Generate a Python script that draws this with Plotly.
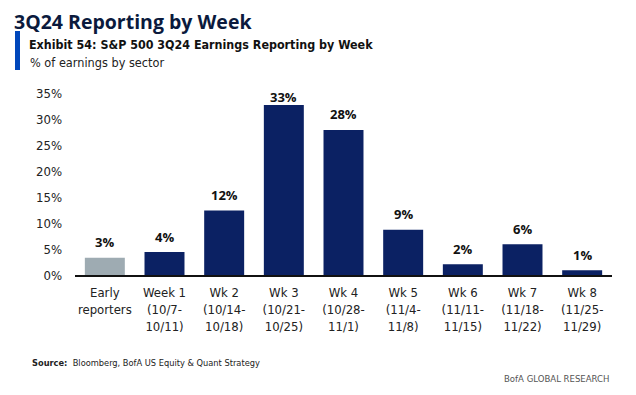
import plotly.graph_objects as go

categories = ["Early<br>reporters", "Week 1<br>(10/7-<br>10/11)", "Wk 2<br>(10/14-<br>10/18)",
              "Wk 3<br>(10/21-<br>10/25)", "Wk 4<br>(10/28-<br>11/1)", "Wk 5<br>(11/4-<br>11/8)",
              "Wk 6<br>(11/11-<br>11/15)", "Wk 7<br>(11/18-<br>11/22)", "Wk 8<br>(11/25-<br>11/29)"]
values = [3.3, 4.4, 12.4, 32.7, 27.9, 8.7, 2.05, 5.9, 0.9]
bar_colors = ["#9eabb2"] + ["#0b2163"] * 8
y_ticks = [0, 5, 10, 15, 20, 25, 30, 35]

NARROW = "DejaVu Sans Condensed, Liberation Sans Narrow, sans-serif"
BODY = "Open Sans, Liberation Sans, sans-serif"

OFF = 8  # page body margin
L, T, W, H = 75 - OFF, 93 - OFF, 537, 182

def px_x(x):
    return (x - OFF - L) / W

def px_y(y):
    return 1 - (y - OFF - T) / H

fig = go.Figure()
fig.add_trace(go.Bar(x=categories, y=values, marker_color=bar_colors,
                     marker_line_width=0, hoverinfo="skip"))

LABEL_OFFSET = 3.0   # label centre above bar top, in axis units
LABEL_CAP = 34.2     # labels never go above this level
for c, v in zip(categories, values):
    fig.add_annotation(x=c, y=min(v + LABEL_OFFSET, LABEL_CAP), text=f"<b>{v:.0f}%</b>",
                       showarrow=False, yanchor="middle",
                       font=dict(family=BODY, size=13, color="#111111"))

fig.update_layout(
    width=636, height=395,
    margin=dict(l=L, r=636 - L - W, t=T, b=395 - T - H, autoexpand=False),
    paper_bgcolor="white", plot_bgcolor="white",
    bargap=0.33, showlegend=False,
    xaxis=dict(showline=True, linecolor="#111111", linewidth=1.5, ticks="",
               tickfont=dict(family=NARROW, size=13, color="#222222"),
               ticklabelstandoff=5, fixedrange=True, automargin=False),
    yaxis=dict(range=[0, 35], tickvals=y_ticks, ticktext=[f"{t}%" for t in y_ticks],
               showgrid=False, zeroline=False, showline=False,
               tickfont=dict(family=NARROW, size=13, color="#222222"),
               ticklabelstandoff=12, automargin=False),
)

# Titles
fig.add_annotation(xref="paper", yref="paper", xanchor="left", yanchor="middle",
                   x=px_x(13), y=px_y(21), text="<b>3Q24 Reporting by Week</b>",
                   showarrow=False, borderpad=0,
                   font=dict(family=BODY, size=19.5, color="#0b1a3d"))
fig.add_shape(type="rect", xref="paper", yref="paper",
              x0=px_x(15), x1=px_x(20), y0=px_y(70), y1=px_y(31),
              fillcolor="#0047bb", line_width=0)
fig.add_annotation(xref="paper", yref="paper", xanchor="left", yanchor="middle",
                   x=px_x(27), y=px_y(44),
                   text="<b>Exhibit 54: S&P 500 3Q24 Earnings Reporting by Week</b>",
                   showarrow=False, font=dict(family=NARROW, size=12.4, color="#111111"))
fig.add_annotation(xref="paper", yref="paper", xanchor="left", yanchor="middle",
                   x=px_x(28), y=px_y(63),
                   text="% of earnings by sector",
                   showarrow=False, font=dict(family=NARROW, size=12.6, color="#222222"))
fig.add_annotation(xref="paper", yref="paper", xanchor="left", yanchor="middle",
                   x=px_x(30), y=px_y(362),
                   text="<b>Source:</b>  Bloomberg, BofA US Equity & Quant Strategy",
                   showarrow=False, font=dict(family=NARROW, size=9.2, color="#222222"))
fig.add_annotation(xref="paper", yref="paper", xanchor="right", yanchor="middle",
                   x=px_x(611), y=px_y(378),
                   text="BofA GLOBAL RESEARCH",
                   showarrow=False, font=dict(family=NARROW, size=9.5, color="#555555"))

fig.write_html("out.html")
